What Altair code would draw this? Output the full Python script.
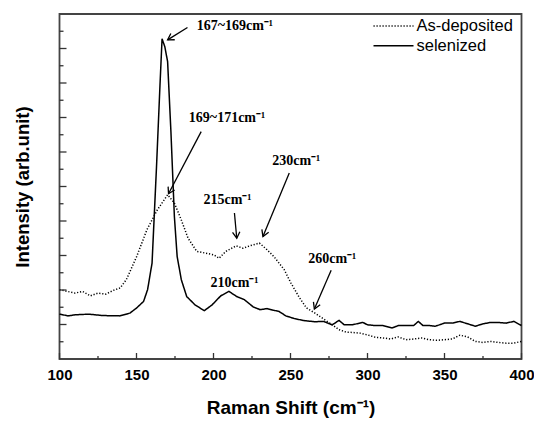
import math
import altair as alt
import pandas as pd

# ---------------- data ----------------
sel_x = [100, 105.6, 110, 119, 127.8, 139, 145.7, 150.1, 154.6, 157.2, 160.1, 163.0, 165.3, 166.6,
         168.4, 170.2, 172.4, 174.6, 176.4, 179.1, 182.6, 188.0, 194.0, 199.1, 204.7, 210.0, 215.1,
         220.0, 225.8, 230.3, 234.7, 239.2, 242.5, 247.0, 252.6, 259.2, 265.9, 271.5, 277.1, 281.5,
         284.9, 290, 297, 300, 305, 310, 316, 320, 325, 330, 333, 336, 340, 344, 350, 355, 360, 365,
         370, 375, 380, 385, 390, 395, 400]
sel_y = [1.30, 1.25, 1.28, 1.30, 1.26, 1.25, 1.33, 1.48, 1.67, 2.01, 2.78, 5.58, 7.99, 9.28,
         9.05, 8.62, 6.54, 4.13, 2.97, 2.30, 1.81, 1.57, 1.40, 1.57, 1.83, 1.96, 1.81,
         1.72, 1.51, 1.43, 1.46, 1.41, 1.38, 1.25, 1.17, 1.11, 1.08, 1.09, 0.99, 1.12,
         0.99, 0.99, 1.06, 0.99, 0.97, 0.97, 0.90, 0.97, 0.97, 0.97, 1.09, 0.97, 0.97, 0.95, 1.04, 1.04,
         1.09, 1.02, 0.95, 1.02, 1.06, 1.06, 1.04, 1.09, 0.97]

dep_x = [100, 105, 110, 115, 120, 125, 130, 135, 139.4, 143.4, 150.1, 156.8, 163.5, 170.2, 174.6,
         179.1, 183.5, 189.1, 194.7, 200.2, 203.6, 208.0, 214.7, 219.2, 223.6, 229.8, 234.7, 239.2,
         245.9, 250.3, 255.9, 260.4, 265.9, 271.5, 277.1, 281.5, 286.0, 290, 295, 300, 305, 310, 315,
         320, 325, 330, 335, 340, 345, 350, 355, 360, 365, 370, 375, 380, 385, 390, 395, 400]
dep_y = [2.01, 1.96, 1.91, 1.96, 1.83, 1.91, 1.88, 1.99, 2.06, 2.30, 2.97, 3.75, 4.32, 4.76, 4.52,
         4.03, 3.50, 3.12, 3.07, 3.02, 2.92, 3.12, 3.28, 3.21, 3.28, 3.36, 3.17, 2.97,
         2.59, 2.20, 1.77, 1.48, 1.33, 1.16, 0.99, 0.85, 0.78, 0.77, 0.75, 0.70, 0.63, 0.61, 0.58,
         0.64, 0.56, 0.58, 0.61, 0.56, 0.54, 0.56, 0.58, 0.69, 0.64, 0.51, 0.48, 0.51, 0.48, 0.46, 0.46, 0.51]

series_names = ["As-deposited", "selenized"]

# annotations
ann_text = ["167~169cm⁻¹", "169~171cm⁻¹", "215cm⁻¹", "230cm⁻¹", "210cm⁻¹", "260cm⁻¹"]
ann_x = [189.1, 184.0, 193.5, 238.1, 198.0, 261.5]
ann_y = [9.65, 6.98, 4.61, 5.74, 2.20, 2.91]

arr_x1 = [183.1, 192.0, 213.6, 249.2, 276.4]
arr_y1 = [9.61, 6.59, 4.23, 5.39, 2.57]
arr_x2 = [170.2, 170.8, 215.1, 232.1, 265.5]
arr_y2 = [9.25, 4.79, 3.50, 3.55, 1.45]

x_major = [100, 150, 200, 250, 300, 350, 400]
x_minor = [125, 175, 225, 275, 325, 375]
y_major = [1, 2, 3, 4, 5, 6, 7, 8, 9]
y_minor = [0.5, 1.5, 2.5, 3.5, 4.5, 5.5, 6.5, 7.5, 8.5, 9.5]

# ---------------- layout ----------------
W, H = 462, 345
XD = [100, 400]
YD = [0, 10]
px_per_x = W / (XD[1] - XD[0])
px_per_y = H / (YD[1] - YD[0])

lines = pd.DataFrame(
    [{"shift": a, "intensity": b, "series": "As-deposited", "order": i} for i, (a, b) in enumerate(zip(dep_x, dep_y))]
    + [{"shift": a, "intensity": b, "series": "selenized", "order": i} for i, (a, b) in enumerate(zip(sel_x, sel_y))]
)

ann = pd.DataFrame({"label": ann_text, "x": ann_x, "y": ann_y})

angles = []
for x1, y1, x2, y2 in zip(arr_x1, arr_y1, arr_x2, arr_y2):
    dx = (x2 - x1) * px_per_x
    dy = -(y2 - y1) * px_per_y
    angles.append(math.degrees(math.atan2(dx, -dy)) % 360)
arrows = pd.DataFrame({"x1": arr_x1, "y1": arr_y1, "x2": arr_x2, "y2": arr_y2, "angle": angles})

xs = alt.Scale(domain=XD, nice=False, zero=False)
ys = alt.Scale(domain=YD, nice=False, zero=False)
dash_scale = alt.Scale(domain=series_names, range=[[1.2, 1.8], [1, 0]])

x_axis = alt.Axis(values=x_major, format="d", ticks=False, tickSize=0, domain=False, grid=False,
                  labelFont="Liberation Sans", labelFontWeight="bold", labelFontSize=15,
                  labelColor="black", labelPadding=8, labelFlush=False,
                  title="Raman Shift (cm⁻¹)", titleFont="Liberation Sans", titleFontWeight="bold",
                  titleFontSize=19, titleColor="black", titlePadding=16)
y_axis = alt.Axis(labels=False, ticks=False, domain=False, grid=False,
                  title="Intensity (arb.unit)", titleFont="Liberation Sans", titleFontWeight="bold",
                  titleFontSize=18.5, titleColor="black", titlePadding=27)

line_layer = alt.Chart(lines).mark_line(color="black", strokeWidth=1.5).encode(
    x=alt.X("shift:Q", scale=xs, axis=x_axis),
    y=alt.Y("intensity:Q", scale=ys, axis=y_axis),
    order="order:Q",
    strokeDash=alt.StrokeDash("series:N", scale=dash_scale, legend=None),
)

# manual legend (top right, inside the frame)
legend_layers = []
for i, name in enumerate(series_names):
    ly = 12 + i * 19.7
    df = pd.DataFrame({"series": [name]})
    legend_layers.append(
        alt.Chart(df).mark_rule(color="black", strokeWidth=1.5).encode(
            x=alt.value(314), x2=alt.value(354), y=alt.value(ly),
            strokeDash=alt.StrokeDash("series:N", scale=dash_scale, legend=None))
    )
    legend_layers.append(
        alt.Chart(df).mark_text(align="left", baseline="middle", font="Liberation Sans",
                                fontSize=16.5, color="black").encode(
            x=alt.value(357), y=alt.value(ly), text="series:N")
    )

text_layer = alt.Chart(ann).mark_text(
    align="left", baseline="middle", font="Liberation Serif", fontWeight="bold", fontSize=14, color="black"
).encode(x=alt.X("x:Q", scale=xs), y=alt.Y("y:Q", scale=ys), text="label:N")

arrow_lines = alt.Chart(arrows).mark_rule(color="black", strokeWidth=1.3).encode(
    x=alt.X("x1:Q", scale=xs), y=alt.Y("y1:Q", scale=ys), x2="x2:Q", y2="y2:Q"
)
arrow_heads = alt.Chart(arrows).mark_point(
    shape="M -0.6 1 L 0 0 L 0.6 1", filled=False, color="black", strokeWidth=1.3, size=150, opacity=1
).encode(x=alt.X("x2:Q", scale=xs), y=alt.Y("y2:Q", scale=ys), angle=alt.Angle("angle:Q", scale=None))

xmaj = alt.Chart(pd.DataFrame({"v": x_major})).mark_rule(color="#333", strokeWidth=1.3).encode(
    x=alt.X("v:Q", scale=xs), y=alt.value(H), y2=alt.value(H - 6))
xmin = alt.Chart(pd.DataFrame({"v": x_minor})).mark_rule(color="#333", strokeWidth=1.3).encode(
    x=alt.X("v:Q", scale=xs), y=alt.value(H), y2=alt.value(H - 3))
ymaj = alt.Chart(pd.DataFrame({"v": y_major})).mark_rule(color="#333", strokeWidth=1.3).encode(
    y=alt.Y("v:Q", scale=ys), x=alt.value(0), x2=alt.value(7))
ymin = alt.Chart(pd.DataFrame({"v": y_minor})).mark_rule(color="#333", strokeWidth=1.3).encode(
    y=alt.Y("v:Q", scale=ys), x=alt.value(0), x2=alt.value(4))

chart = alt.layer(line_layer, text_layer, arrow_lines, arrow_heads, xmaj, xmin, ymaj, ymin,
                  *legend_layers).properties(
    width=W, height=H,
    autosize=alt.AutoSizeParams(type="none"),
    padding={"left": 51.5, "top": 6, "right": 12.5, "bottom": 59},
    background="white",
).configure_view(stroke="#444", strokeWidth=1.8)

chart.save("out.html", embed_options={"renderer": "svg", "actions": False})
